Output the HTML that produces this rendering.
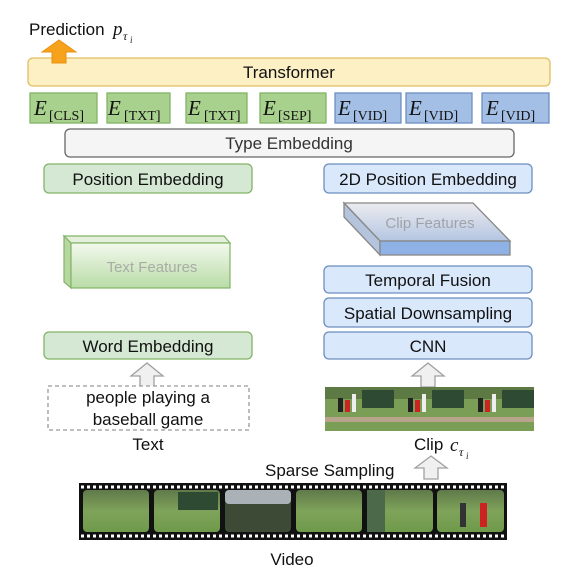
<!DOCTYPE html>
<html><head><meta charset="utf-8"><style>
html,body{margin:0;padding:0;background:#fff}
svg{display:block}
text{font-family:"Liberation Sans",sans-serif}
.s{font-family:"Liberation Serif",serif}
</style></head><body>
<svg width="580" height="584" viewBox="0 0 580 584" xmlns="http://www.w3.org/2000/svg" fill="#111">
<defs>
<linearGradient id="tf" x1="0" y1="0" x2="0" y2="1"><stop offset="0" stop-color="#f3f9ee"/><stop offset="1" stop-color="#b9dca6"/></linearGradient>
<linearGradient id="cf" x1="0" y1="0" x2="0" y2="1"><stop offset="0" stop-color="#ececef"/><stop offset="1" stop-color="#b4c6e2"/></linearGradient>
<linearGradient id="gr" x1="0" y1="0" x2="0" y2="1"><stop offset="0" stop-color="#5f7a4a"/><stop offset="0.5" stop-color="#7fa35a"/><stop offset="1" stop-color="#6f9a4a"/></linearGradient>
</defs>
<text x="29" y="35" font-size="17">Prediction</text>
<text x="113" y="35" font-size="19" class="s" font-style="italic">p</text>
<text x="123" y="40" font-size="12" class="s" font-style="italic">τ</text>
<text x="130" y="43" font-size="9" class="s" font-style="italic">i</text>
<rect x="28" y="58" width="522" height="28" rx="5" fill="#fdf0c4" stroke="#e0be5c" stroke-width="1.3"/>
<polygon points="42,52 59,40 76,52 66,52 66,63 52,63 52,52" fill="#f6a21c" stroke="#e89210" stroke-width="1"/>
<text x="289" y="78" font-size="17" text-anchor="middle">Transformer</text>
<g stroke-width="1.3">
<rect x="30" y="93" width="67" height="30" fill="#a9d18e" stroke="#82b366"/>
<rect x="107" y="93" width="63" height="30" fill="#a9d18e" stroke="#82b366"/>
<rect x="186" y="93" width="61" height="30" fill="#a9d18e" stroke="#82b366"/>
<rect x="260" y="93" width="66" height="30" fill="#a9d18e" stroke="#82b366"/>
<rect x="335" y="93" width="66" height="30" fill="#a4bfe6" stroke="#6c8ebf"/>
<rect x="406" y="93" width="66" height="30" fill="#a4bfe6" stroke="#6c8ebf"/>
<rect x="482" y="93" width="67" height="30" fill="#a4bfe6" stroke="#6c8ebf"/>
</g>
<g font-size="21" font-style="italic">
<text x="34" y="115" class="s">E</text><text x="108" y="115" class="s">E</text><text x="188" y="115" class="s">E</text><text x="263" y="115" class="s">E</text><text x="338" y="115" class="s">E</text><text x="409" y="115" class="s">E</text><text x="486" y="115" class="s">E</text>
</g>
<g font-size="14">
<text x="49" y="120" class="s">[CLS]</text>
<text x="124" y="120" class="s">[TXT]</text>
<text x="204" y="120" class="s">[TXT]</text>
<text x="278" y="120" class="s">[SEP]</text>
<text x="353" y="120" class="s">[VID]</text>
<text x="424" y="120" class="s">[VID]</text>
<text x="501" y="120" class="s">[VID]</text>
</g>
<rect x="65" y="129" width="449" height="28" rx="5" fill="#f5f5f5" stroke="#666" stroke-width="1.3"/>
<text x="289" y="149" font-size="17" text-anchor="middle" fill="#333">Type Embedding</text>
<rect x="44" y="164" width="208" height="29" rx="5" fill="#d5e8d4" stroke="#82b366" stroke-width="1.3"/>
<text x="148" y="185" font-size="17" text-anchor="middle">Position Embedding</text>
<rect x="324" y="164" width="208" height="29" rx="5" fill="#dae8fc" stroke="#6c8ebf" stroke-width="1.3"/>
<text x="428" y="185" font-size="17" text-anchor="middle">2D Position Embedding</text>
<polygon points="344,203 473,203 510,241 380,241" fill="url(#cf)" stroke="#888" stroke-width="1.3"/>
<polygon points="344,203 380,241 380,255 344,217" fill="#b4c4dc" stroke="#888" stroke-width="1.3"/>
<rect x="380" y="241" width="130" height="14" fill="#8fb2e6" stroke="#888" stroke-width="1.3"/>
<text x="430" y="228" font-size="15" text-anchor="middle" fill="#a0a4aa">Clip Features</text>
<polygon points="64,236 224,236 230,243 71,243" fill="#e4f0dc" stroke="#82b366" stroke-width="1.2"/>
<polygon points="64,236 71,243 71,288 64,282" fill="#b6d8a0" stroke="#82b366" stroke-width="1.2"/>
<rect x="71" y="243" width="159" height="45" fill="url(#tf)" stroke="#82b366" stroke-width="1.2"/>
<text x="152" y="272" font-size="15" text-anchor="middle" fill="#a8aca4">Text Features</text>
<rect x="324" y="266" width="208" height="27" rx="5" fill="#dae8fc" stroke="#6c8ebf" stroke-width="1.3"/>
<text x="428" y="286" font-size="17" text-anchor="middle">Temporal Fusion</text>
<rect x="324" y="298" width="208" height="29" rx="5" fill="#dae8fc" stroke="#6c8ebf" stroke-width="1.3"/>
<text x="428" y="319" font-size="17" text-anchor="middle">Spatial Downsampling</text>
<rect x="324" y="332" width="208" height="27" rx="5" fill="#dae8fc" stroke="#6c8ebf" stroke-width="1.3"/>
<text x="428" y="352" font-size="17" text-anchor="middle">CNN</text>
<rect x="44" y="332" width="208" height="27" rx="5" fill="#d5e8d4" stroke="#82b366" stroke-width="1.3"/>
<text x="148" y="352" font-size="17" text-anchor="middle">Word Embedding</text>
<polygon points="131,376 147,363 163,376 154,376 154,387 140,387 140,376" fill="#f0f0f0" stroke="#a0a0a0" stroke-width="1.3"/>
<polygon points="412,376 428,363 444,376 435,376 435,387 421,387 421,376" fill="#f0f0f0" stroke="#a0a0a0" stroke-width="1.3"/>
<rect x="48" y="386" width="201" height="44" fill="#fff" stroke="#999" stroke-width="1.3" stroke-dasharray="4,3"/>
<text x="148" y="403" font-size="17" text-anchor="middle">people playing a</text>
<text x="148" y="425" font-size="17" text-anchor="middle">baseball game</text>
<text x="148" y="450" font-size="17" text-anchor="middle">Text</text>
<g>
<rect x="325" y="387" width="209" height="44" fill="#7a9e56"/>
<rect x="325" y="387" width="209" height="12" fill="#5d7a45"/>
<rect x="362" y="390" width="32" height="18" fill="#2f4a33"/><rect x="432" y="390" width="32" height="18" fill="#2f4a33"/><rect x="502" y="390" width="32" height="18" fill="#2f4a33"/>
<rect x="325" y="417" width="209" height="5" fill="#b8a48a"/>
<rect x="338" y="398" width="5" height="14" fill="#222"/><rect x="345" y="400" width="5" height="12" fill="#c22"/><rect x="352" y="394" width="4" height="18" fill="#eee"/>
<rect x="408" y="398" width="5" height="14" fill="#222"/><rect x="415" y="400" width="5" height="12" fill="#c22"/><rect x="422" y="394" width="4" height="18" fill="#eee"/>
<rect x="478" y="398" width="5" height="14" fill="#222"/><rect x="485" y="400" width="5" height="12" fill="#c22"/><rect x="492" y="394" width="4" height="18" fill="#eee"/>
</g>
<text x="414" y="450" font-size="17">Clip</text>
<text x="450" y="451" font-size="19" class="s" font-style="italic">c</text>
<text x="459" y="456" font-size="12" class="s" font-style="italic">τ</text>
<text x="466" y="459" font-size="9" class="s" font-style="italic">i</text>
<text x="265" y="476" font-size="17">Sparse Sampling</text>
<polygon points="415,468 431,456 447,468 438,468 438,479 424,479 424,468" fill="#f0f0f0" stroke="#a0a0a0" stroke-width="1.3"/>
<rect x="79" y="483" width="428" height="57" fill="#111"/>
<line x1="81" y1="487" x2="507" y2="487" stroke="#fff" stroke-width="3" stroke-dasharray="3,3"/>
<line x1="81" y1="536" x2="507" y2="536" stroke="#fff" stroke-width="3" stroke-dasharray="3,3"/>
<rect x="83" y="490" width="66" height="42" rx="4" fill="url(#gr)"/>
<rect x="154" y="490" width="66" height="42" rx="4" fill="url(#gr)"/><rect x="178" y="492" width="40" height="18" fill="#2f4a33"/>
<rect x="225" y="490" width="66" height="42" rx="4" fill="#3d4a35"/><rect x="225" y="490" width="66" height="14" rx="4" fill="#aab2b8"/>
<rect x="296" y="490" width="66" height="42" rx="4" fill="url(#gr)"/>
<rect x="367" y="490" width="66" height="42" rx="4" fill="url(#gr)"/><rect x="367" y="490" width="18" height="42" fill="#4c6a4a"/>
<rect x="437" y="490" width="67" height="42" rx="4" fill="url(#gr)"/><rect x="480" y="503" width="7" height="24" fill="#c22"/><rect x="460" y="503" width="6" height="24" fill="#333"/>
<text x="292" y="565" font-size="17" text-anchor="middle">Video</text>
</svg>
</body></html>
